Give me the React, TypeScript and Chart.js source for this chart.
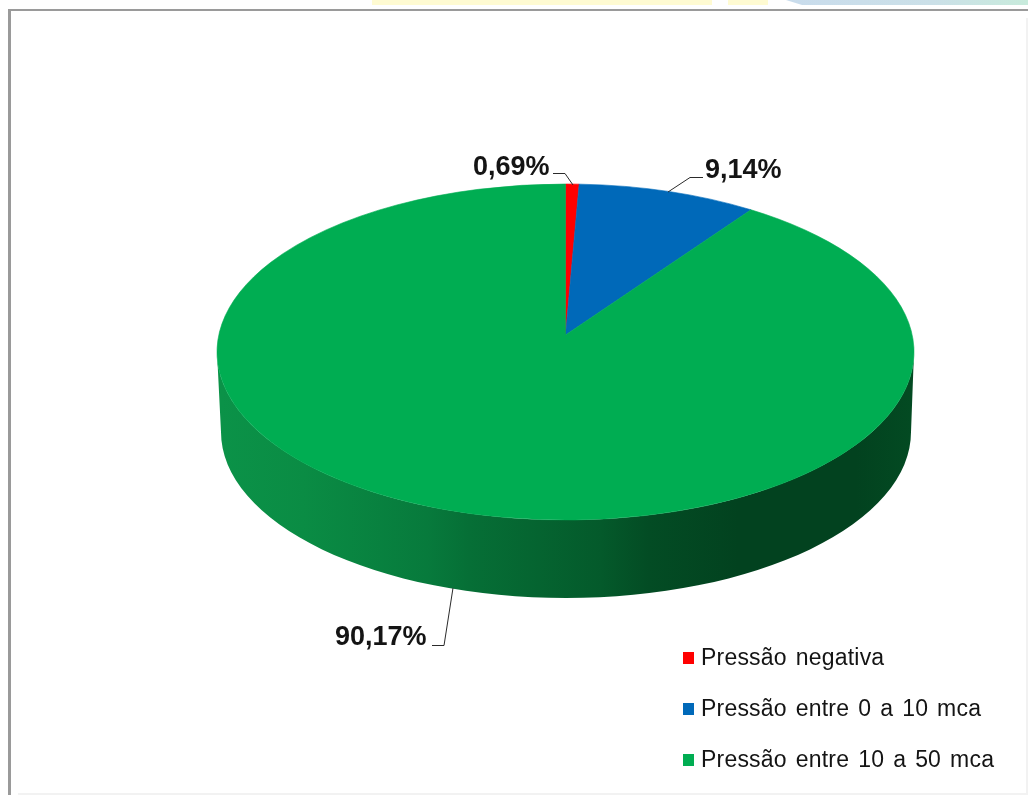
import React, { useEffect, useRef } from "react";
import { Chart, registerables } from "chart.js";

Chart.register(...registerables);

const categories = ["Pressão negativa", "Pressão entre 0 a 10 mca", "Pressão entre 10 a 50 mca"];
const values = [0.69, 9.14, 90.17];
const valueLabels = ["0,69%", "9,14%", "90,17%"];
const colors = ["#FF0000", "#0069B9", "#00AD52"];

const TILT = 168 / 348.5;
const APEX_SHIFT = 17 / 168;
const WALL = { dy: 80, shrink: 3.5, dx: 0.5 };
const WALL_STOPS: [number, string][] = [
  [0, "#0B9248"], [0.12, "#0A8C44"], [0.3, "#077A3C"], [0.36, "#066F36"],
  [0.55, "#045A2B"], [0.62, "#034C24"], [0.75, "#02421F"], [0.92, "#02421F"], [1, "#034A22"],
];
const LEADERS: [number, number][][] = [
  [[553, 173.5], [565, 173.5], [573, 185]],
  [[703, 177.5], [690, 177.5], [668, 192]],
  [[432, 645.5], [444, 645.5], [453, 588]],
];
const LABEL_POS: [number, number][] = [[473, 174.5], [705, 178], [335, 645]];
const LEGEND_ROWS = [665, 716, 767];

// Rim point for a slice angle, seen in perspective: the apex sits above the rim's centre.
function rimAngle(a: number) {
  const t = a + Math.PI / 2;
  const u = Math.sin(t);
  const v = Math.cos(t);
  const d = APEX_SHIFT;
  const den = 1 + d * v;
  const x = (u * Math.sqrt(1 - d * d)) / den;
  const y = (v + d) / den;
  return Math.atan2(-y, x);
}

const pie3d = {
  id: "pie3d",
  beforeDraw(chart: any) {
    const c = chart.ctx;
    c.save();
    c.fillStyle = "#FFFFFF";
    c.fillRect(0, 0, 1028, 795);
    // page fragments above the frame
    c.fillStyle = "#FFFBD2";
    c.fillRect(372, 0, 340, 5);
    c.fillRect(728, 0, 40, 5);
    const g = c.createLinearGradient(790, 0, 1028, 0);
    g.addColorStop(0, "#C9DCEC");
    g.addColorStop(0.6, "#CBE0E8");
    g.addColorStop(1, "#C8EBDC");
    c.fillStyle = g;
    c.beginPath();
    c.moveTo(786, 0);
    c.lineTo(1028, 0);
    c.lineTo(1028, 5);
    c.lineTo(802, 5);
    c.closePath();
    c.fill();
    // frame
    c.fillStyle = "#9A9A9A";
    c.fillRect(8, 9, 1020, 2);
    c.fillRect(8, 9, 3, 786);
    c.fillStyle = "#F2F2F2";
    c.fillRect(1026, 18, 2, 777);
    c.fillRect(18, 793, 1008, 2);
    c.restore();
  },
  beforeDatasetDraw(chart: any) {
    const c = chart.ctx;
    const els = chart.getDatasetMeta(0).data;
    const { x: cx, y: cy, outerRadius: rx } = els[0];
    const ry = rx * TILT;
    const apexY = cy - ry * APEX_SHIFT;

    // side wall
    const bx = cx + WALL.dx;
    const by = cy + WALL.dy;
    const brx = rx - WALL.shrink;
    const bry = ry - 2;
    const grad = c.createLinearGradient(bx - brx, 0, bx + brx, 0);
    WALL_STOPS.forEach(([p, col]) => grad.addColorStop(p, col));
    c.save();
    c.fillStyle = grad;
    c.beginPath();
    c.moveTo(cx - rx, cy);
    c.lineTo(bx - brx, by);
    c.ellipse(bx, by, brx, bry, 0, Math.PI, 0, true);
    c.lineTo(cx + rx, cy);
    c.ellipse(cx, cy, rx, ry, 0, 0, Math.PI, false);
    c.closePath();
    c.fill();

    // top face
    els.forEach((el: any, i: number) => {
      const a0 = rimAngle(el.startAngle);
      const a1 = rimAngle(el.endAngle);
      c.fillStyle = colors[i];
      c.strokeStyle = colors[i];
      c.lineWidth = 0.6;
      c.beginPath();
      c.moveTo(cx, apexY);
      c.ellipse(cx, cy, rx, ry, 0, a0, a1, false);
      c.closePath();
      c.fill();
      c.stroke();
    });
    c.restore();
    return false;
  },
  afterDraw(chart: any) {
    const c = chart.ctx;
    c.save();
    c.strokeStyle = "#2B2B2B";
    c.lineWidth = 1;
    LEADERS.forEach((pts) => {
      c.beginPath();
      pts.forEach(([x, y], i) => (i ? c.lineTo(x, y) : c.moveTo(x, y)));
      c.stroke();
    });
    c.fillStyle = "#141414";
    c.textBaseline = "alphabetic";
    c.font = 'bold 27px "Liberation Sans"';
    valueLabels.forEach((t, i) => c.fillText(t, LABEL_POS[i][0], LABEL_POS[i][1]));
    c.font = '23px "Liberation Sans"';
    c.letterSpacing = "0.2px";
    c.wordSpacing = "2.4px";
    categories.forEach((t, i) => {
      c.fillStyle = colors[i];
      c.fillRect(683, LEGEND_ROWS[i] - 13, 11, 12);
      c.fillStyle = "#141414";
      c.fillText(t, 701, LEGEND_ROWS[i]);
    });
    c.restore();
  },
};

export default function App() {
  const ref = useRef<HTMLCanvasElement>(null);
  useEffect(() => {
    const chart = new Chart(ref.current as HTMLCanvasElement, {
      type: "pie",
      data: {
        labels: categories,
        datasets: [{ data: values, backgroundColor: colors, borderWidth: 0, hoverOffset: 0 }],
      },
      options: {
        responsive: false,
        animation: false,
        devicePixelRatio: 1,
        layout: { padding: { left: 217, right: 114, top: 3.5, bottom: 94.5 } },
        plugins: { legend: { display: false }, tooltip: { enabled: false } },
      },
      plugins: [pie3d],
    } as any);
    return () => chart.destroy();
  }, []);
  return (
    <canvas
      ref={ref}
      width={1028}
      height={795}
      style={{ position: "absolute", left: 0, top: 0, display: "block", width: 1028, height: 795 }}
    />
  );
}
